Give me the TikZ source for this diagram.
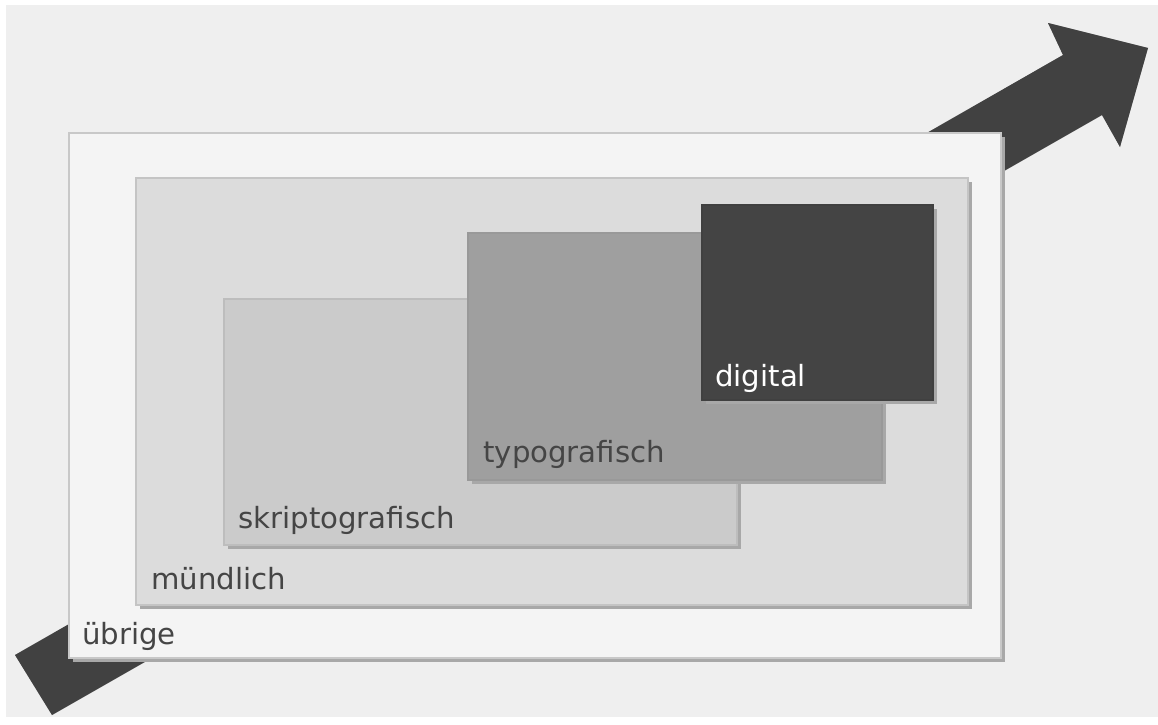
\documentclass[tikz,border=0pt]{standalone}
\usepackage{fontspec}
\setmainfont{DejaVu Sans}
\definecolor{bgcol}{HTML}{EFEFEF}
\definecolor{shadowcol}{HTML}{A8A8A8}
\definecolor{arrowcol}{HTML}{414141}
\definecolor{txtcol}{HTML}{454545}
\definecolor{c0}{HTML}{F4F4F4}
\definecolor{c1}{HTML}{DCDCDC}
\definecolor{c2}{HTML}{CBCBCB}
\definecolor{c3}{HTML}{9F9F9F}
\definecolor{c4}{HTML}{444444}
\definecolor{e0}{HTML}{C8C8C8}
\definecolor{e1}{HTML}{C4C4C4}
\definecolor{e2}{HTML}{BDBDBD}
\definecolor{e3}{HTML}{999999}
\definecolor{e4}{HTML}{404040}
\tikzset{
  boxlabel/.style={anchor=base west, inner sep=0pt, text=txtcol,
    font=\fontsize{21.9}{25}\selectfont},
  layerbox/.style={line width=0.8pt}
}
\begin{document}
\begin{tikzpicture}[x=0.75pt,y=-0.75pt]
\fill[white] (0,0) rectangle (1158,725);
\fill[bgcol] (6,5) rectangle (1158,717);
\useasboundingbox (0,0) rectangle (1158,725);
% arrow
\coordinate (t1) at (15,655);
\coordinate (t2) at (52,715);
\coordinate (s1) at (1063,55);
\coordinate (b1) at (1048,23);
\coordinate (tip) at (1148,48);
\coordinate (b2) at (1120,147);
\coordinate (s2) at (1102,115);
\fill[shadowcol,shift={(3,3)}] (t1) -- (s1) -- (b1) -- (tip) -- (b2) -- (s2) -- (t2) -- cycle;
\fill[arrowcol] (t1) -- (s1) -- (b1) -- (tip) -- (b2) -- (s2) -- (t2) -- cycle;
% boxes
\foreach \xa/\ya/\xb/\yb/\col/\edge in {69/133/1001/658/c0/e0, 136/178/968/605/c1/e1, 224/299/737/545/c2/e2, 468/233/882/480/c3/e3, 702/205/933/400/c4/e4}{
  \fill[shadowcol] (\xa+4,\ya+4) rectangle (\xb+4,\yb+4);
  \filldraw[layerbox,fill=\col,draw=\edge] (\xa,\ya) rectangle (\xb,\yb);
}
% labels
\node[boxlabel] (ubrige) at (82,644) {übrige};
\node[boxlabel] (mundlich) at (151,589) {mündlich};
\node[boxlabel] (skript) at (238,528) {skriptografisch};
\node[boxlabel] (typo) at (483,462) {typografisch};
\node[boxlabel,text=white] (digital) at (715,386) {digital};
\end{tikzpicture}
\end{document}
